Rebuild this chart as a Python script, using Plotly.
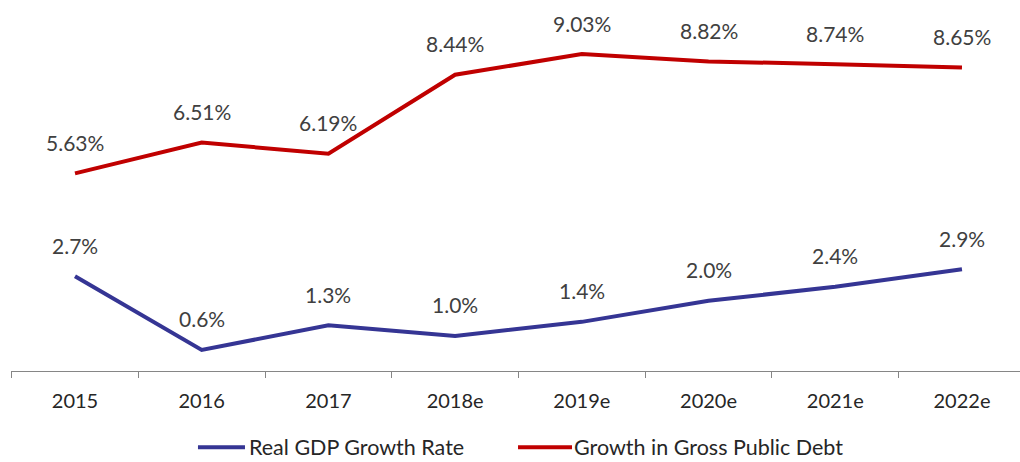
import plotly.graph_objects as go

categories = ["2015", "2016", "2017", "2018e", "2019e", "2020e", "2021e", "2022e"]
gdp_growth = [2.7, 0.6, 1.3, 1.0, 1.4, 2.0, 2.4, 2.9]
gdp_labels = ["2.7%", "0.6%", "1.3%", "1.0%", "1.4%", "2.0%", "2.4%", "2.9%"]
debt_growth = [5.63, 6.51, 6.19, 8.44, 9.03, 8.82, 8.74, 8.65]
debt_labels = ["5.63%", "6.51%", "6.19%", "8.44%", "9.03%", "8.82%", "8.74%", "8.65%"]
series_names = ["Real GDP Growth Rate", "Growth in Gross Public Debt"]
colors = ["#353594", "#C00000"]

FONT = "Lato, 'Open Sans', sans-serif"

fig = go.Figure()
fig.add_trace(go.Scatter(x=categories, y=gdp_growth, mode="lines", name=series_names[0],
                         line=dict(color=colors[0], width=4), showlegend=False))
fig.add_trace(go.Scatter(x=categories, y=debt_growth, mode="lines", name=series_names[1],
                         line=dict(color=colors[1], width=4), showlegend=False))

for vals, labs in ((gdp_growth, gdp_labels), (debt_growth, debt_labels)):
    for i, (v, t) in enumerate(zip(vals, labs)):
        fig.add_annotation(x=i, y=v, text=t, showarrow=False, yshift=31,
                           font=dict(size=21, color="#404040", family=FONT))

# custom legend
leg_y = -0.217
legend_items = [(0.1853, 0.2319, 0.2339), (0.5025, 0.556, 0.556)]
for (x0, x1, xt), name, col in zip(legend_items, series_names, colors):
    fig.add_shape(type="line", xref="paper", yref="paper", x0=x0, x1=x1, y0=leg_y, y1=leg_y,
                  line=dict(color=col, width=4))
    fig.add_annotation(xref="paper", yref="paper", x=xt, y=leg_y, text=name, showarrow=False,
                       xanchor="left", yanchor="middle",
                       font=dict(size=21.5, color="#262626", family=FONT))

fig.update_layout(
    width=1020, height=462,
    margin=dict(l=11, r=0, t=20, b=91),
    paper_bgcolor="white", plot_bgcolor="white",
    font=dict(family=FONT, size=20, color="#262626"),
    xaxis=dict(type="category", range=[-0.505, 7.458], showgrid=False, zeroline=False,
               showline=True, linecolor="#868686", linewidth=1,
               ticks="outside", tickson="boundaries", ticklen=6, tickcolor="#868686",
               ticklabelstandoff=12,
               tickfont=dict(size=20, color="#262626", family=FONT)),
    yaxis=dict(range=[0, 10], visible=False),
)

fig.write_html("out.html")
